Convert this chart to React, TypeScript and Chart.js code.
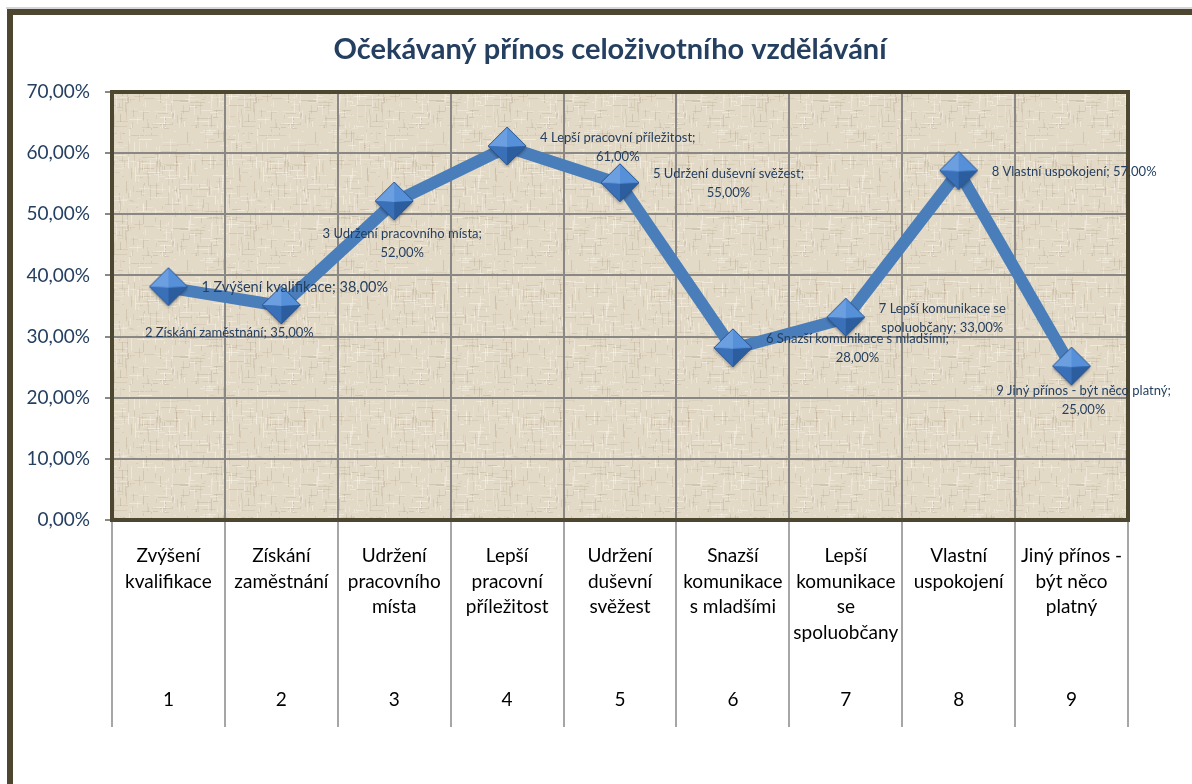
import React, { useEffect, useRef } from "react";
import { Chart, registerables } from "chart.js";

Chart.register(...registerables);

// ---------- data ----------
const chartTitle = "Očekávaný přínos celoživotního vzdělávání";
const categoryLines: string[][] = [
  ["Zvýšení", "kvalifikace"],
  ["Získání", "zaměstnání"],
  ["Udržení", "pracovního", "místa"],
  ["Lepší", "pracovní", "příležitost"],
  ["Udržení", "duševní", "svěžest"],
  ["Snazší", "komunikace", "s mladšími"],
  ["Lepší", "komunikace", "se", "spoluobčany"],
  ["Vlastní", "uspokojení"],
  ["Jiný přínos -", "být něco", "platný"],
];
const categoryNumbers = ["1", "2", "3", "4", "5", "6", "7", "8", "9"];
const values = [38, 35, 52, 61, 55, 28, 33, 57, 25];
const yTicks = [0, 10, 20, 30, 40, 50, 60, 70];

// ---------- label placement (style) ----------
type Placement = { pos: "right" | "below"; brk?: number; dx?: number; dy?: number; size?: number };
const labelPlacement: Placement[] = [
  { pos: "right", size: 14.5 },
  { pos: "below", dx: -52, dy: 0 },
  { pos: "below", brk: 4, dx: 8, dy: 5 },
  { pos: "right", brk: 4 },
  { pos: "right", brk: 4 },
  { pos: "right", brk: 5 },
  { pos: "right", brk: 4 },
  { pos: "right" },
  { pos: "below", brk: 7, dx: 12, dy: -3 },
];

const FONT = "Lato, 'Open Sans', sans-serif";
const NAVY = "#243f60";
const FRAME = "#4d4630";

const pct = (v: number) => v.toFixed(2).replace(".", ",") + "%";

function makeTexture(): HTMLCanvasElement {
  const c = document.createElement("canvas");
  c.width = 128;
  c.height = 128;
  const g = c.getContext("2d")!;
  g.fillStyle = "#e3d9c7";
  g.fillRect(0, 0, 128, 128);
  let s = 12345;
  const rnd = () => {
    s = (s * 1103515245 + 12345) & 0x7fffffff;
    return s / 0x7fffffff;
  };
  for (let i = 0; i < 520; i++) {
    const horiz = rnd() < 0.5;
    const dark = rnd() < 0.5;
    g.fillStyle = dark ? `rgba(160,145,115,${0.1 + rnd() * 0.18})` : `rgba(250,246,236,${0.2 + rnd() * 0.35})`;
    const p = Math.floor(rnd() * 128);
    const start = Math.floor(rnd() * 128);
    const len = 2 + Math.floor(rnd() * 14);
    if (horiz) g.fillRect(start, p, len, 1);
    else g.fillRect(p, start, 1, len);
  }
  return c;
}

function makeDiamond(): HTMLCanvasElement {
  const size = 42;
  const c = document.createElement("canvas");
  c.width = size;
  c.height = size;
  const g = c.getContext("2d")!;
  const cx = 21, cy = 20, r = 19;
  const T = [cx, cy - r], B = [cx, cy + r], L = [cx - r, cy], R = [cx + r, cy], C = [cx, cy + 1];
  g.save();
  g.shadowColor = "rgba(0,0,0,0.35)";
  g.shadowBlur = 3;
  g.shadowOffsetY = 2;
  g.beginPath();
  g.moveTo(T[0], T[1]);
  g.lineTo(R[0], R[1]);
  g.lineTo(B[0], B[1]);
  g.lineTo(L[0], L[1]);
  g.closePath();
  g.fillStyle = "#3a70b8";
  g.fill();
  g.restore();
  const tri = (a: number[], b: number[], d: number[], col: string) => {
    g.beginPath();
    g.moveTo(a[0], a[1]);
    g.lineTo(b[0], b[1]);
    g.lineTo(d[0], d[1]);
    g.closePath();
    g.fillStyle = col;
    g.fill();
  };
  tri(T, L, C, "#6b9fe0");
  tri(T, R, C, "#5690d8");
  tri(L, B, C, "#3a70b8");
  tri(R, B, C, "#2c5e9f");
  g.beginPath();
  g.moveTo(T[0], T[1]);
  g.lineTo(R[0], R[1]);
  g.lineTo(B[0], B[1]);
  g.lineTo(L[0], L[1]);
  g.closePath();
  g.strokeStyle = "#2a5590";
  g.lineWidth = 1;
  g.stroke();
  return c;
}

export default function App() {
  const ref = useRef<HTMLCanvasElement>(null);

  useEffect(() => {
    const canvas = ref.current!;
    const texture = makeTexture();
    const diamond = makeDiamond();

    const decor = {
      id: "decor",
      beforeDraw(chart: any) {
        const ctx = chart.ctx;
        const a = chart.chartArea;
        ctx.save();
        ctx.fillStyle = "#ffffff";
        ctx.fillRect(0, 0, chart.width, chart.height);
        ctx.fillStyle = "#d6d6d6";
        ctx.fillRect(6, 7, chart.width, 2);
        ctx.strokeStyle = FRAME;
        ctx.lineWidth = 6;
        ctx.strokeRect(10, 12, chart.width + 40, chart.height + 40);
        ctx.fillStyle = ctx.createPattern(texture, "repeat");
        ctx.fillRect(a.left, a.top, a.right - a.left, a.bottom - a.top);
        ctx.restore();
      },
      beforeDatasetsDraw(chart: any) {
        const ctx = chart.ctx;
        const a = chart.chartArea;
        ctx.save();
        ctx.strokeStyle = FRAME;
        ctx.lineWidth = 4;
        ctx.strokeRect(a.left, a.top, a.right - a.left, a.bottom - a.top);
        ctx.restore();
      },
      afterDatasetsDraw(chart: any) {
        const ctx = chart.ctx;
        const meta = chart.getDatasetMeta(0);
        ctx.save();
        ctx.fillStyle = NAVY;
        ctx.textBaseline = "middle";
        ctx.textAlign = "center";
        const lh = 19;
        values.forEach((v, i) => {
          const el = meta.data[i];
          const name = categoryLines[i].join(" ");
          const words = `${categoryNumbers[i]} ${name}; ${pct(v)}`.split(" ");
          const pl = labelPlacement[i];
          ctx.font = `${pl.size || 13}px ${FONT}`;
          const lines = pl.brk ? [words.slice(0, pl.brk).join(" "), words.slice(pl.brk).join(" ")] : [words.join(" ")];
          const w = Math.max(...lines.map((l) => ctx.measureText(l).width));
          let cx: number, y0: number;
          if (pl.pos === "right") {
            cx = el.x + 33 + w / 2 + (pl.dx || 0);
            y0 = el.y - ((lines.length - 1) * lh) / 2 + (pl.dy || 0);
          } else {
            cx = el.x + (pl.dx || 0);
            y0 = el.y + 27 + (pl.dy || 0);
          }
          lines.forEach((l, k) => ctx.fillText(l, cx, y0 + k * lh));
        });
        ctx.restore();
      },
      afterDraw(chart: any) {
        const ctx = chart.ctx;
        const a = chart.chartArea;
        const xs = chart.scales.x;
        ctx.save();
        ctx.font = `bold 29px ${FONT}`;
        ctx.fillStyle = NAVY;
        ctx.textAlign = "center";
        ctx.textBaseline = "middle";
        ctx.fillText(chartTitle, 610, 50);
        ctx.font = `19px ${FONT}`;
        ctx.fillStyle = "#000000";
        categoryLines.forEach((lines, i) => {
          const x = xs.getPixelForValue(i);
          lines.forEach((l, k) => ctx.fillText(l, x, a.bottom + 36 + k * 25.5));
          ctx.fillText(categoryNumbers[i], x, a.bottom + 180);
        });
        ctx.restore();
      },
    };

    const chart = new Chart(canvas, {
      type: "line",
      data: {
        labels: categoryLines.map((l) => l.join(" ")),
        datasets: [
          {
            data: values,
            borderColor: "#4a7ebb",
            borderWidth: 12,
            pointStyle: diamond as any,
            pointRadius: 19,
            pointHoverRadius: 19,
            tension: 0,
            fill: false,
          },
        ],
      },
      options: {
        animation: false,
        responsive: false,
        events: [],
        layout: { padding: { top: 92, right: 64, left: 0, bottom: 0 } },
        plugins: { legend: { display: false }, tooltip: { enabled: false }, title: { display: false } },
        scales: {
          x: {
            offset: true,
            grid: {
              offset: true,
              color: "#8a8884",
              lineWidth: 2,
              drawTicks: true,
              tickLength: 207,
              tickColor: "#a6a6a6",
            },
            border: { display: false },
            ticks: { display: false },
            afterFit: (s: any) => {
              s.height = 264;
            },
          },
          y: {
            min: 0,
            max: 70,
            afterBuildTicks: (s: any) => {
              s.ticks = yTicks.map((v) => ({ value: v }));
            },
            grid: { color: "#8a8884", lineWidth: 2, tickLength: 7, tickColor: "#8a8884" },
            border: { display: false },
            ticks: {
              callback: (v: any) => pct(Number(v)),
              font: { family: FONT, size: 19 },
              color: NAVY,
              padding: 15,
            },
            afterFit: (s: any) => {
              s.width = 112;
            },
          },
        },
      },
      plugins: [decor],
    });
    return () => chart.destroy();
  }, []);

  return (
    <div style={{ position: "absolute", left: 0, top: 0, width: 1192, height: 784 }}>
      <canvas ref={ref} width={1192} height={784} style={{ display: "block" }} />
    </div>
  );
}
